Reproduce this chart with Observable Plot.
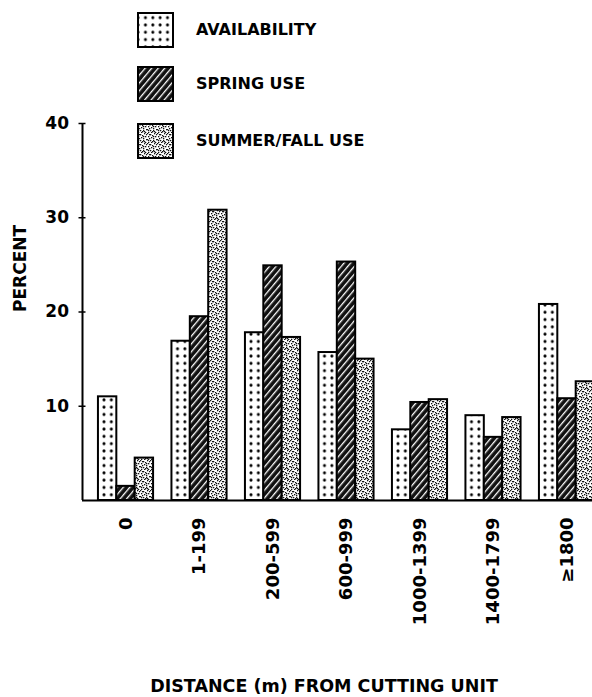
<!DOCTYPE html>
<html>
<head>
<meta charset="utf-8">
<script src="https://cdn.jsdelivr.net/npm/d3@7"></script>
<script src="https://cdn.jsdelivr.net/npm/@observablehq/plot@0.6"></script>
<style>
  html, body { margin: 0; padding: 0; background: white; overflow: hidden; }
  #wrap { position: relative; width: 592px; height: 697px; font-family: "DejaVu Sans", sans-serif; font-weight: bold; color: black; }
  #chart { position: absolute; left: 0; top: 0; }
  #chart svg text { font-weight: bold; font-family: "DejaVu Sans", sans-serif; }
  .leg { position: absolute; left: 137px; display: flex; align-items: center; gap: 22px; font-size: 16px; line-height: 1; }
  .leg svg { display: block; }
  #caption { position: absolute; left: 0; width: 648px; top: 678px; text-align: center; font-size: 17.5px; line-height: 1; white-space: nowrap; }
</style>
</head>
<body>
<svg width="0" height="0" style="position:absolute">
  <defs>
    <pattern id="dots" patternUnits="userSpaceOnUse" x="4.775" y="2" width="7.35" height="7.3">
      <rect width="7.35" height="7.3" fill="white"/>
      <circle cx="3.675" cy="3.65" r="1.5" fill="black"/>
    </pattern>
    <pattern id="hatch" patternUnits="userSpaceOnUse" width="5" height="5" patternTransform="rotate(40)">
      <rect width="5" height="5" fill="#111"/>
      <rect x="2" width="1.3" height="5" fill="white"/>
    </pattern>
    <pattern id="stipple" patternUnits="userSpaceOnUse" width="10" height="10">
      <rect width="10" height="10" fill="white"/>
      <g fill="#111">
        <rect x="0" y="0" width="1.3" height="1.3"/>
        <rect x="3" y="1" width="1.3" height="1.3"/>
        <rect x="7" y="0" width="1.3" height="1.3"/>
        <rect x="5" y="2" width="1.3" height="1.3"/>
        <rect x="1" y="3" width="1.3" height="1.3"/>
        <rect x="8" y="3" width="1.3" height="1.3"/>
        <rect x="4" y="4" width="1.3" height="1.3"/>
        <rect x="6" y="5" width="1.3" height="1.3"/>
        <rect x="0" y="6" width="1.3" height="1.3"/>
        <rect x="2" y="5" width="1.3" height="1.3"/>
        <rect x="9" y="6" width="1.3" height="1.3"/>
        <rect x="3" y="7" width="1.3" height="1.3"/>
        <rect x="7" y="8" width="1.3" height="1.3"/>
        <rect x="5" y="8" width="1.3" height="1.3"/>
        <rect x="1" y="9" width="1.3" height="1.3"/>
        <rect x="8" y="9" width="1.3" height="1.3"/>
        <rect x="2" y="1" width="1.3" height="1.3"/>
        <rect x="6" y="7" width="1.3" height="1.3"/>
        <rect x="9" y="1" width="1.3" height="1.3"/>
        <rect x="4" y="9" width="1.3" height="1.3"/>
        <rect x="6" y="3" width="1.3" height="1.3"/>
        <rect x="1" y="7" width="1.3" height="1.3"/>
      </g>
    </pattern>
  </defs>
</svg>
<div id="wrap">
  <div id="chart"></div>
  <div id="legend"></div>
  <div id="caption">DISTANCE (m) FROM CUTTING UNIT</div>
</div>
<script>
const groups = ["0", "1-199", "200-599", "600-999", "1000-1399", "1400-1799", "≥1800"];
const seriesNames = ["AVAILABILITY", "SPRING USE", "SUMMER/FALL USE"];
const availability = [11.0, 16.9, 17.8, 15.7, 7.5, 9.0, 20.8];
const springUse = [1.5, 19.5, 24.9, 25.3, 10.4, 6.7, 10.8];
const summerFallUse = [4.5, 30.8, 17.3, 15.0, 10.7, 8.8, 12.6];
const yTicks = [10, 20, 30, 40];
const patterns = ["url(#dots)", "url(#hatch)", "url(#stipple)"];

const seriesValues = [availability, springUse, summerFallUse];
const barFrac = 0.25;
const rows = [];
seriesValues.forEach((vals, si) => {
  vals.forEach((v, gi) => {
    const x1 = gi - 1.5 * barFrac + si * barFrac;
    rows.push({gi, si, series: seriesNames[si], x1, x2: x1 + barFrac, value: v});
  });
});

const xDomain = [-0.592, 6.347];

const plot = Plot.plot({
  width: 592,
  height: 660,
  marginTop: 123,
  marginBottom: 160,
  marginLeft: 82,
  marginRight: 0,
  x: {domain: xDomain},
  y: {domain: [0, 40]},
  style: {background: "white", color: "black", fontFamily: "DejaVu Sans"},
  marks: [
    ...seriesNames.map((s, si) => Plot.rectY(rows.filter(d => d.si === si), {
      x1: "x1", x2: "x2", y1: 0, y2: "value",
      fill: patterns[si], stroke: "black", strokeWidth: 2
    })),
    Plot.ruleY([0], {strokeWidth: 2}),
    Plot.ruleX([xDomain[0]], {y1: 0, y2: 40, strokeWidth: 2}),
    Plot.axisY({ticks: yTicks, tickSize: 7, dx: 3.5, tickPadding: 10, fontSize: 17, strokeWidth: 1.5, label: null}),
    Plot.axisX({ticks: d3.range(groups.length), tickFormat: i => groups[i], tickRotate: -90, tickSize: 0, tickPadding: 17, fontSize: 18, label: null}),
    Plot.text(["PERCENT"], {text: d => d, frameAnchor: "left", rotate: -90, dx: -62, fontSize: 17, fontWeight: "bold"})
  ]
});
document.getElementById("chart").appendChild(plot);

// Legend
const legendTops = [12, 66, 123];
const legend = document.getElementById("legend");
seriesNames.forEach((s, si) => {
  const row = document.createElement("div");
  row.className = "leg";
  row.style.top = legendTops[si] + "px";
  row.style.height = "36px";
  row.innerHTML = `<svg width="37" height="36"><rect x="1" y="1" width="35" height="34" fill="${patterns[si]}" stroke="black" stroke-width="2"/></svg><span>${s}</span>`;
  legend.appendChild(row);
});
</script>
</body>
</html>
